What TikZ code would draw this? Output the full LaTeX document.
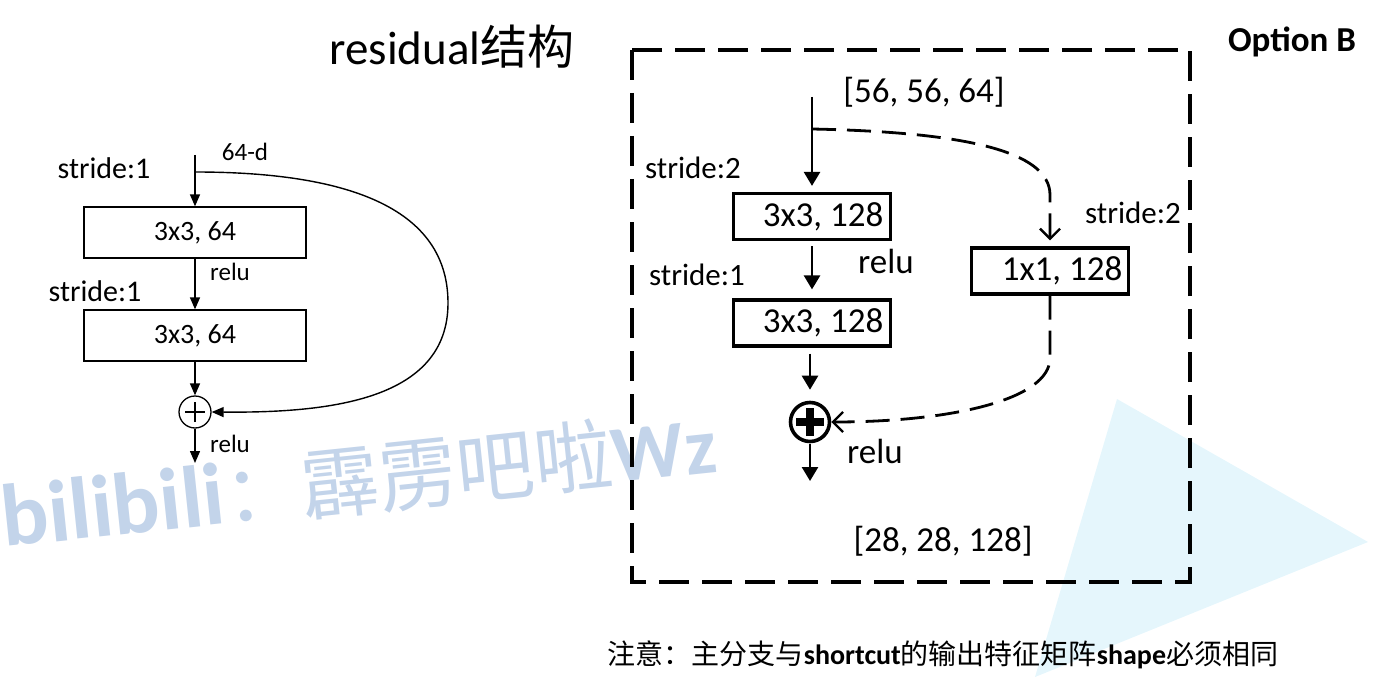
\documentclass[tikz,border=0pt]{standalone}
\usepackage{fontspec}
\setmainfont{Carlito}
\newfontfamily\cjk{Noto Sans CJK SC}
\usetikzlibrary{arrows.meta}
\definecolor{wmblue}{HTML}{C3D4EA}
\definecolor{tricyan}{HTML}{E5F6FC}
\newcommand{\fs}[1]{\fontsize{#1}{#1}\selectfont}
\tikzset{
  lbox/.style={draw, line width=1.3pt, minimum width=222pt, minimum height=51pt, inner sep=0pt, font=\fs{28}},
  lline/.style={line width=1.4pt, -{Triangle[length=12pt,width=10pt]}},
  ltxt/.style={inner sep=0pt},
  rbox/.style={draw, line width=3.2pt, minimum width=157pt, minimum height=46pt, inner sep=0pt, font=\fs{35}},
  rline/.style={line width=2.6pt, -{Triangle[length=14pt,width=16pt]}},
  dsh/.style={line width=2.8pt, dash pattern=on 24pt off 11pt, -{Straight Barb[length=10pt,width=20pt,line width=2.4pt]}},
  dbox/.style={line width=3.6pt, dash pattern=on 30pt off 13pt},
  rtxt/.style={inner sep=0pt, font=\fs{35}},
}
\begin{document}
\begin{tikzpicture}[x=1pt,y=-1pt]
\useasboundingbox (0,0) rectangle (1386,679);
% background decorations
\fill[tricyan] (1117,399) -- (1368,542) -- (1035,677) -- cycle;
\node[rotate=6, anchor=base west, inner sep=0pt, text=wmblue] (wm) at (4,547)
  {\fs{88}\bfseries bilibili{\mdseries\fs{78}\cjk ：霹雳吧啦}{\fs{80}Wz}};

% title
\node[ltxt, font=\fs{47}] (title) at (452,47) {residual{\cjk 结构}};

% ---------- left diagram ----------
\node[lbox] (b1) at (195,232.5) {3x3, 64};
\node[lbox] (b2) at (195,335.5) {3x3, 64};
\node[draw, circle, line width=1.3pt, minimum size=32pt, inner sep=0pt] (c1) at (195,412) {};
\draw[line width=1.3pt] ([xshift=-10pt]c1.center) -- ([xshift=10pt]c1.center)
      ([yshift=-10pt]c1.center) -- ([yshift=10pt]c1.center);
\coordinate (ltop) at (195,155);
\coordinate (lsplit) at (195,172);
\coordinate (lout) at (195,463);
\draw[lline] (ltop) -- (b1.north);
\draw[lline] (b1.south) -- (b2.north);
\draw[lline] (b2.south) -- (c1.north);
\draw[lline] (c1.south) -- (lout);
\draw[lline] (lsplit) .. controls (330,172) and (448,200) .. (448,303)
      .. controls (448,400) and (330,413) .. (c1.east);
\node[ltxt, font=\fs{30}] (ls1) at (104,168) {stride:1};
\node[ltxt, font=\fs{25}] (l64) at (245,152) {64-d};
\node[ltxt, font=\fs{25}] (lr1) at (230,272) {relu};
\node[ltxt, font=\fs{30}] (ls2) at (95,291) {stride:1};
\node[ltxt, font=\fs{25}] (lr2) at (230,444) {relu};

% ---------- right diagram ----------
\draw[dbox] (632,50) rectangle (1190,582);
\node[rtxt, font=\fs{35}\bfseries] (opt) at (1292,42) {Option B};
\node[rtxt] (in) at (924,92) {[56, 56, 64]};
\node[rbox] (rb1) at (812,216.5) {\hspace{22pt}3x3, 128};
\node[rbox] (rb3) at (812,323) {\hspace{22pt}3x3, 128};
\node[rbox] (rs) at (1050,271) {\hspace{24pt}1x1, 128};
\node[draw, circle, line width=3.6pt, minimum size=39pt, inner sep=0pt] (rc) at (810,422) {};
\draw[line width=8pt] ([xshift=-14pt]rc.center) -- ([xshift=14pt]rc.center)
      ([yshift=-14pt]rc.center) -- ([yshift=14pt]rc.center);
\coordinate (rtop) at (812,97);
\coordinate (rsplit) at (812,129);
\coordinate (rout) at (810,481);
\draw[rline, shorten >=6pt] (rtop) -- (rb1.north);
\draw[rline, shorten <=5pt, shorten >=9pt] (rb1.south) -- (rb3.north);
\draw[rline, shorten <=6pt, shorten >=11pt] (rb3.south -| rc.north) -- (rc.north);
\draw[rline, shorten <=1pt] (rc.south) -- (rout);
\draw[dsh, shorten >=6pt] (rsplit) .. controls (960,132) and (1050,150) .. (1050,195) -- (rs.north);
\draw[dsh] (rs.south) -- (1050,358) .. controls (1050,400) and (950,422) .. (rc.east);
\node[rtxt, font=\fs{31}] (rs2a) at (693,168) {stride:2};
\node[rtxt, font=\fs{31}] (rs2b) at (1133,213) {stride:2};
\node[rtxt] (rr1) at (886,261) {relu};
\node[rtxt, font=\fs{31}] (rs1) at (697,275) {stride:1};
\node[rtxt] (rr2) at (875,451) {relu};
\node[rtxt] (outsz) at (943,541) {[28, 28, 128]};

% note
\node[inner sep=0pt, font=\fs{28}] (note) at (943,655)
  {{\cjk 注意：主分支与}\textbf{shortcut}{\cjk 的输出特征矩阵}\textbf{shape}{\cjk 必须相同}};
\end{tikzpicture}
\end{document}
